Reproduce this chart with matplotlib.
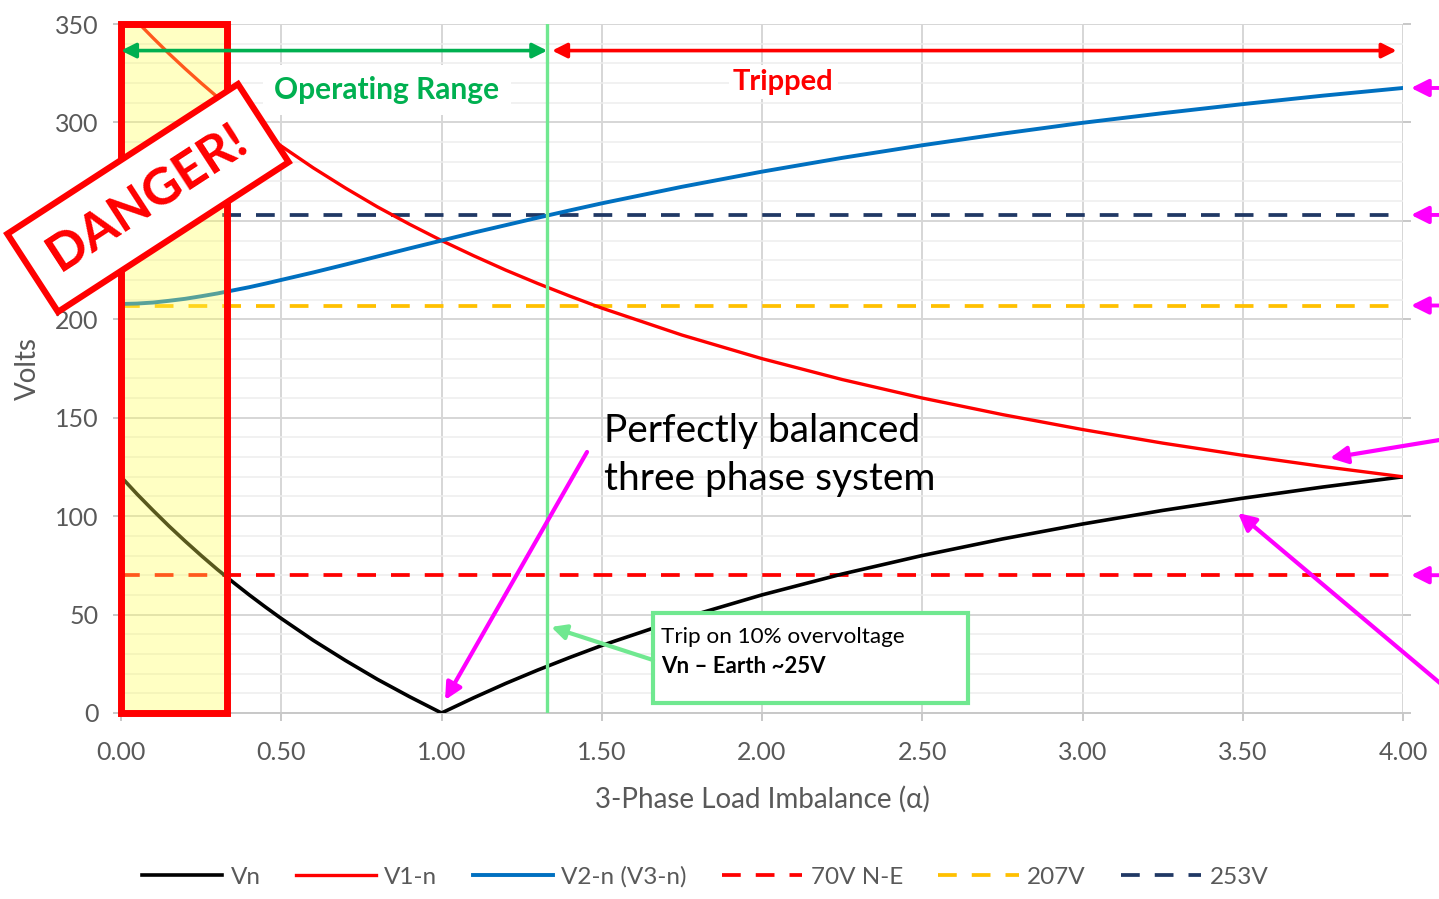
import numpy as np
import matplotlib.pyplot as plt
from matplotlib.patches import Rectangle
from matplotlib.transforms import IdentityTransform

# imbalance factor and read-off voltages
alpha = [0, 0.05, 0.1, 0.15, 0.2, 0.25, 0.3, 0.35, 0.4, 0.45, 0.5, 0.6, 0.7, 0.8, 0.9, 1.0,
         1.1, 1.2, 1.3, 1.4, 1.5, 1.75, 2.0, 2.25, 2.5, 2.75, 3.0, 3.25, 3.5, 3.75, 4.0]
vn = [120, 111.2, 102.9, 94.9, 87.3, 80.0, 73.0, 66.4, 60.0, 53.9, 48.0, 36.9, 26.7, 17.1, 8.3, 0,
      7.7, 15.0, 21.8, 28.2, 34.3, 48.0, 60.0, 70.6, 80.0, 88.4, 96.0, 102.9, 109.1, 114.8, 120]
v1n = [360, 351.2, 342.9, 334.9, 327.3, 320.0, 313.0, 306.4, 300.0, 293.9, 288.0, 276.9, 266.7,
       257.1, 248.3, 240, 232.3, 225.0, 218.2, 211.8, 205.7, 192.0, 180.0, 169.4, 160.0, 151.6,
       144.0, 137.1, 130.9, 125.2, 120]
v2n = [207.8, 208.0, 208.5, 209.4, 210.4, 211.7, 213.1, 214.7, 216.3, 218.1, 220.0, 223.8, 227.8,
       231.9, 236.0, 240, 244.0, 247.8, 251.6, 255.3, 258.9, 267.3, 275.0, 282.0, 288.4, 294.3,
       299.8, 304.7, 309.3, 313.6, 317.5]
limits = [70, 207, 253]
limit_names = ['70V N-E', '207V', '253V']
limit_colors = ['#ff0000', '#ffc000', '#203864']
trip_alpha = 1.33
danger_alpha = 0.33
x_ticks = [0, 0.5, 1.0, 1.5, 2.0, 2.5, 3.0, 3.5, 4.0]
x_tick_labels = ['0.00', '0.50', '1.00', '1.50', '2.00', '2.50', '3.00', '3.50', '4.00']
y_ticks = [0, 50, 100, 150, 200, 250, 300, 350]

plt.rcParams['font.family'] = ['Lato', 'DejaVu Sans']

green = '#00b050'
light_green = '#70e890'
magenta = '#ff00ff'
grey_txt = '#595959'

fig = plt.figure(figsize=(14.39, 8.99), dpi=100)
ax = fig.add_axes([0.0841, 0.2069, 0.8909, 0.7664])
ax.set_xlim(0, 4)
ax.set_ylim(0, 350)

ax.set_xticks(x_ticks)
ax.set_xticklabels(x_tick_labels)
ax.set_yticks(y_ticks)
ax.set_yticks(np.arange(0, 351, 10), minor=True)
ax.grid(which='major', color='#d6d6d6', lw=1.4)
ax.grid(which='minor', axis='y', color='#ededed', lw=1.1)
ax.set_axisbelow(True)
for s in ['top', 'right', 'left']:
    ax.spines[s].set_visible(False)
ax.spines['bottom'].set_color('#c8c8c8')
ax.spines['bottom'].set_linewidth(1.4)
ax.tick_params(which='major', colors='#c8c8c8', labelcolor=grey_txt, labelsize=18,
               length=6, width=1.4)
ax.tick_params(axis='x', pad=14)
ax.tick_params(axis='y', right=True, pad=10)
ax.tick_params(which='minor', length=0)

ax.set_xlabel('3-Phase Load Imbalance (α)', fontsize=20, color=grey_txt, labelpad=16)
ax.set_ylabel('Volts', fontsize=20, color=grey_txt, labelpad=10)

# curves
l_vn, = ax.plot(alpha, vn, color='black', lw=2.6, label='Vn', zorder=3)
l_v1, = ax.plot(alpha, v1n, color='#ff0000', lw=2.4, label='V1-n', zorder=3)
l_v2, = ax.plot(alpha, v2n, color='#0070c0', lw=2.8, label='V2-n (V3-n)', zorder=3)
lim_lines = []
for v, name, c in zip(limits, limit_names, limit_colors):
    ln = ax.axhline(v, color=c, lw=2.7, ls=(0, (5, 4)), label=name, zorder=2.5)
    lim_lines.append(ln)

# trip line
ax.axvline(trip_alpha, color=light_green, lw=2.4, zorder=3.5)

# danger zone
ax.add_patch(Rectangle((0, 0), danger_alpha, 350, facecolor='#ffff55', alpha=0.35,
                       edgecolor='none', zorder=4))
ax.add_patch(Rectangle((0, 0), danger_alpha, 350, facecolor='none', edgecolor='#ff0000',
                       lw=5, zorder=4.5, clip_on=False))

# range arrows
ax.annotate('', xy=(0, 336.5), xytext=(trip_alpha, 336.5),
            arrowprops=dict(arrowstyle='<|-|>', color=green, lw=2.6, mutation_scale=22,
                            shrinkA=0, shrinkB=0), zorder=6)
ax.annotate('', xy=(1.345, 336.5), xytext=(3.98, 336.5),
            arrowprops=dict(arrowstyle='<|-|>', color='#ff0000', lw=2.6, mutation_scale=22,
                            shrinkA=0, shrinkB=0), zorder=6)
ax.text(0.83, 316.5, 'Operating Range', color=green, fontsize=21.5, fontweight='bold',
        ha='center', va='center', zorder=6,
        bbox=dict(facecolor='white', edgecolor='none', pad=8))
ax.text(2.066, 320.5, 'Tripped', color='#ff0000', fontsize=21, fontweight='bold',
        ha='center', va='center', zorder=6,
        bbox=dict(facecolor='white', edgecolor='none', pad=3))

# balanced annotation
ax.text(1.507, 131, 'Perfectly balanced\nthree phase system', fontsize=28, color='black',
        ha='left', va='center', linespacing=1.4, zorder=6)
ax.annotate('', xy=(1.011, 6.6), xytext=(1.454, 132.6),
            arrowprops=dict(arrowstyle='-|>', color=magenta, lw=3, mutation_scale=25,
                            shrinkA=0, shrinkB=0), zorder=6)

# trip note box
ax.add_patch(Rectangle((1.66, 5.1), 0.983, 45.7, facecolor='white', edgecolor=light_green,
                       lw=3, zorder=5))
ax.text(1.685, 38.6, 'Trip on 10% overvoltage', fontsize=16.2, color='black',
        ha='left', va='center', zorder=6)
ax.text(1.685, 23.4, 'Vn – Earth ~25V', fontsize=16, color='black', fontweight='bold',
        ha='left', va='center', zorder=6)
ax.annotate('', xy=(1.342, 43.7), xytext=(1.66, 26.9),
            arrowprops=dict(arrowstyle='-|>', color=light_green, lw=3, mutation_scale=22,
                            shrinkA=0, shrinkB=0), zorder=6)

# magenta pointers from the right margin
for y in [v2n[-1], limits[2], limits[1], limits[0]]:
    ax.annotate('', xy=(4.025, y), xytext=(4.2, y), annotation_clip=False,
                arrowprops=dict(arrowstyle='-|>', color=magenta, lw=2.8, mutation_scale=26,
                                shrinkA=0, shrinkB=0))
ax.annotate('', xy=(3.772, 129.5), xytext=(4.2, 141), annotation_clip=False,
            arrowprops=dict(arrowstyle='-|>', color=magenta, lw=3, mutation_scale=26,
                            shrinkA=0, shrinkB=0), zorder=6)
ax.annotate('', xy=(3.485, 101.6), xytext=(4.2, 3.6), annotation_clip=False,
            arrowprops=dict(arrowstyle='-|>', color=magenta, lw=3, mutation_scale=26,
                            shrinkA=0, shrinkB=0), zorder=6)

# DANGER stamp
cx, cy = 148, 899 - 198
fig.patches.append(Rectangle((cx - 137.5, cy - 46.5), 275, 93, angle=33, rotation_point='center',
                             facecolor='white', edgecolor='#ff0000', lw=4.5,
                             transform=IdentityTransform(), figure=fig, zorder=20))
fig.text(cx / 1439, cy / 899, 'DANGER!', color='#ff0000', fontsize=37, fontweight='bold',
         rotation=33, rotation_mode='anchor', ha='center', va='center', zorder=21)

# legend
handles = [l_vn, l_v1, l_v2] + lim_lines
fig.legend(handles=handles, labels=[h.get_label() for h in handles], loc='center',
           bbox_to_anchor=(0.49, 0.0245), ncol=6, frameon=False, fontsize=17.5,
           handlelength=3.3, handletextpad=0.35, columnspacing=1.45, labelcolor=grey_txt)

fig.savefig('out.png', dpi=100)
